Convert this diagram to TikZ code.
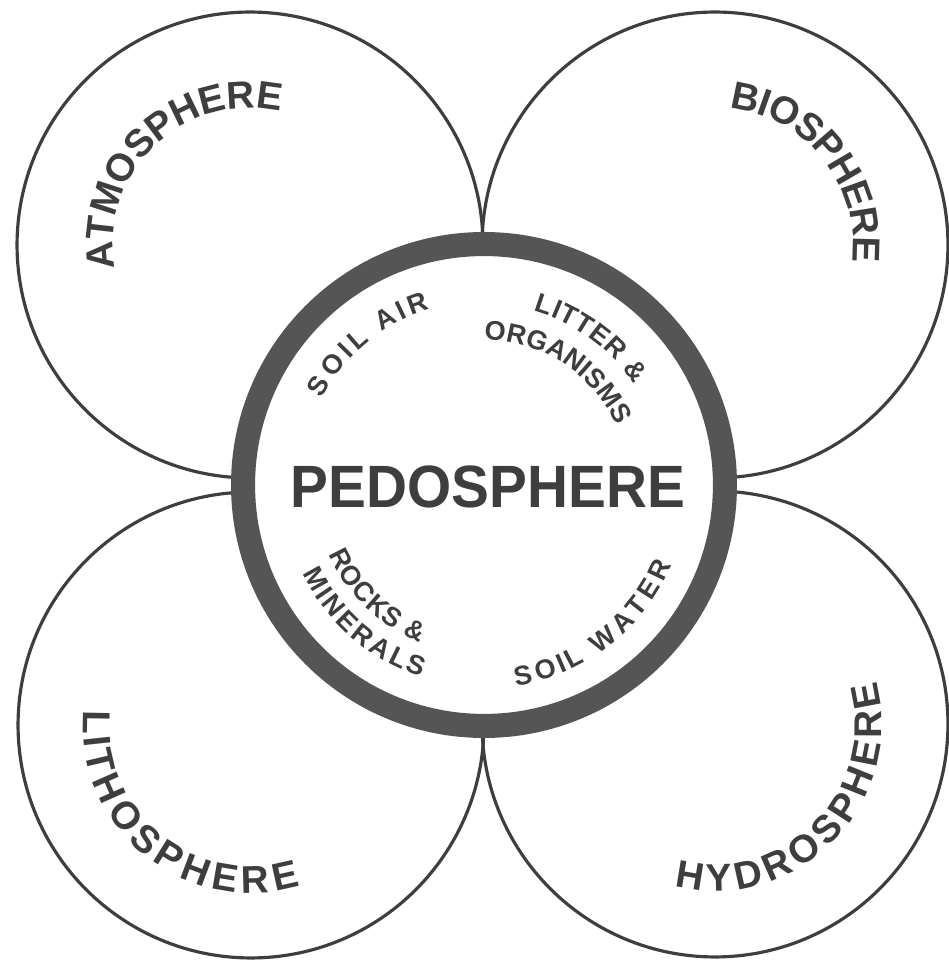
\documentclass[tikz,border=0pt]{standalone}
\usepackage{fontspec}
\setmainfont{Liberation Sans}
\usetikzlibrary{decorations.text}
\definecolor{ink}{RGB}{62,62,62}
\definecolor{ringc}{RGB}{85,85,85}
\newcommand{\outerlab}{\fontsize{22}{26}\selectfont\bfseries}
\newcommand{\innerlab}{\fontsize{15.4}{18}\selectfont\bfseries}
\newcommand{\pedolab}{\fontsize{34}{40}\selectfont\bfseries}
\begin{document}
\begin{tikzpicture}[x=0.02cm,y=0.02cm,
  sphere/.style={circle, draw=ink, line width=1.8pt, minimum size=9.32cm, inner sep=0pt},
  pedoring/.style={circle, draw=ringc, fill=white, line width=13.7pt, minimum size=9.64cm, inner sep=0pt},
  arctext/.style n args={2}{decorate, decoration={text effects along path, text={#1},
      text effects/.cd, text along path, fit text to path, characters={text=ink, font=#2}}},
]
\useasboundingbox (0,0) rectangle (949,964);
\fill[white] (0,0) rectangle (949,964);
% outer spheres
\node[sphere] (atmo) at (250,719) {};
\node[sphere] (bio) at (715,719) {};
\node[sphere] (litho) at (251,239) {};
\node[sphere] (hydro) at (715,240) {};
% pedosphere ring
\node[pedoring] (pring) at (484,479) {};
\node[text=ink, inner sep=0pt] (pedo) at (488,477.5) {\pedolab\scalebox{0.95}[1]{PEDOSPHERE}};
% outer labels
\path[arctext={ATMOSPHERE}{\outerlab}] ([shift={(190:137)}]atmo.center) arc[start angle=190, end angle=77, radius=137];
\path[arctext={BIOSPHERE}{\outerlab}] ([shift={(84:138)}]bio.center) arc[start angle=84, end angle=-7, radius=138];
\path[arctext={LITHOSPHERE}{\outerlab}] ([shift={(175:168)}]litho.center) arc[start angle=175, end angle=287, radius=168];
\path[arctext={HYDROSPHERE}{\outerlab}] ([shift={(256:167)}]hydro.center) arc[start angle=256, end angle=375, radius=167];
% inner labels
\path[arctext={SOIL AIR}{\innerlab}] ([shift={(152:184)}]pring.center) arc[start angle=152, end angle=107, radius=184];
\path[arctext={LITTER {\&}}{\innerlab}] ([shift={(74:181)}]pring.center) arc[start angle=74, end angle=34, radius=181];
\path[arctext={ORGANISMS}{\innerlab}] ([shift={(90:145)}]pring.center) arc[start angle=90, end angle=24, radius=145];
\path[arctext={ROCKS {\&}}{\innerlab}] ([shift={(204:170)}]pring.center) arc[start angle=204, end angle=248, radius=170];
\path[arctext={MINERALS}{\innerlab}] ([shift={(206:202)}]pring.center) arc[start angle=206, end angle=252, radius=202];
\path[arctext={SOIL WATER}{\innerlab}] ([shift={(279:204)}]pring.center) arc[start angle=279, end angle=337, radius=204];
\end{tikzpicture}
\end{document}
